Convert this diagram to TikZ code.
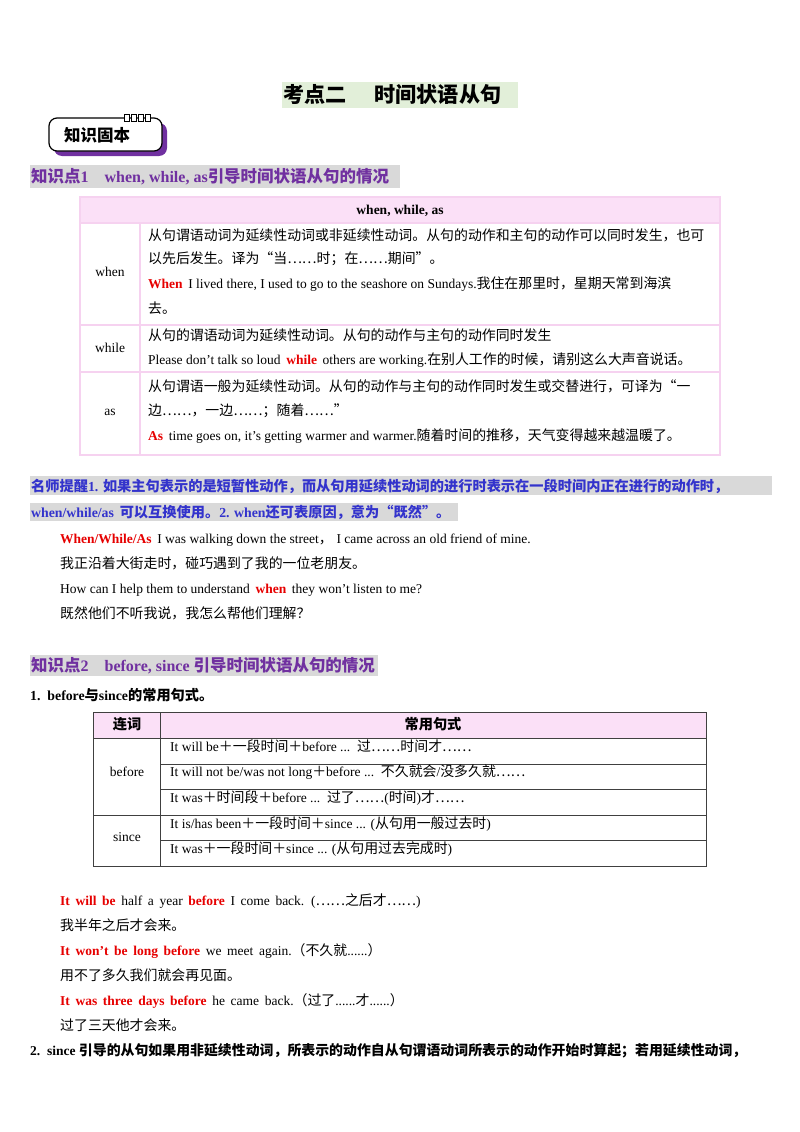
\documentclass[tikz,border=0pt]{standalone}
\usepackage{fontspec}
\setmainfont{Liberation Serif}
\newfontfamily\cjk{Noto Sans CJK SC}[Scale=1.03]
\XeTeXinterchartokenstate=1
\newXeTeXintercharclass\cjkclass
\newcount\cc
\cc="4E00 \loop \XeTeXcharclass\cc=\cjkclass \ifnum\cc<"9FFF \advance\cc 1 \repeat
\cc="3000 \loop \XeTeXcharclass\cc=\cjkclass \ifnum\cc<"303F \advance\cc 1 \repeat
\cc="FF00 \loop \XeTeXcharclass\cc=\cjkclass \ifnum\cc<"FFEF \advance\cc 1 \repeat
\XeTeXcharclass"2026=\cjkclass
\XeTeXcharclass"201C=\cjkclass
\XeTeXcharclass"201D=\cjkclass
\XeTeXinterchartoks 0 \cjkclass = {\begingroup\cjk}
\XeTeXinterchartoks 4095 \cjkclass = {\begingroup\cjk}
\XeTeXinterchartoks \cjkclass 0 = {\endgroup}
\XeTeXinterchartoks \cjkclass 4095 = {\endgroup}
\definecolor{pur}{HTML}{7030A0}
\definecolor{blu}{HTML}{3333CC}
\definecolor{red1}{HTML}{E60000}
\definecolor{pk}{HTML}{FBE0F7}
\definecolor{pkb}{HTML}{F6D2F0}
\definecolor{hl}{HTML}{D9D9D9}
\definecolor{gr}{HTML}{E2EFD9}
\newcommand{\R}[1]{\textcolor{red1}{\bfseries #1}}
\begin{document}
\begin{tikzpicture}[x=1pt,y=-1pt,
 t/.style={anchor=base west,inner sep=0pt,font=\fontsize{13.5}{15}\selectfont},
 c/.style={anchor=base,inner sep=0pt,font=\fontsize{13.5}{15}\selectfont},
 hd/.style={anchor=base west,inner sep=0pt,font=\fontsize{16}{18}\selectfont\bfseries,text=pur},
 bl/.style={anchor=base west,inner sep=0pt,font=\fontsize{13.8}{15}\selectfont\bfseries,text=blu}]
\useasboundingbox (0,0) rectangle (800,1132);
% title
\fill[gr] (282,82) rectangle (518,108);
\node[anchor=base west,inner sep=0pt,font=\fontsize{20.5}{22}\selectfont\bfseries] (title) at (283,102) {考点二\hspace{28pt}时间状语从句};
% badge
\fill[pur,rounded corners=8pt] (54,123) rectangle (167,156);
\draw[fill=white,line width=1.2pt,rounded corners=8pt] (49,118) rectangle (162,151);
\foreach \i in {0,1,2,3} \draw[fill=white,line width=0.8pt] (124+\i*7,114) rectangle (129+\i*7,121);
\node[anchor=base west,inner sep=0pt,font=\fontsize{16}{17}\selectfont\bfseries] (badge) at (64,141) {知识固本};
% heading 1
\fill[hl] (30,165) rectangle (400,188);
\node[hd] (h1) at (31,182) {知识点1\quad when, while, as引导时间状语从句的情况};
% table 1
\fill[pk] (80,197) rectangle (720,223);
\draw[pkb,line width=1.5pt] (80,197) rectangle (720,455) (80,223)--(720,223) (80,325)--(720,325) (80,372)--(720,372) (140,223)--(140,455);
\node[c,font=\fontsize{13.5}{15}\selectfont\bfseries] (t1h) at (400,214) {when, while, as};
\node[c] (w) at (110,276) {when};
\node[c] (wh) at (110,352) {while};
\node[c] (as) at (110,415) {as};
\node[t] (r1a) at (148,240) {从句谓语动词为延续性动词或非延续性动词。从句的动作和主句的动作可以同时发生，也可};
\node[t] (r1b) at (148,263) {以先后发生。译为“当……时；在……期间”。};
\node[t] (r1c) at (148,288) {\R{When} \,I lived there, I used to go to the seashore on Sundays.我住在那里时，星期天常到海滨};
\node[t] (r1d) at (148,313) {去。};
\node[t] (r2a) at (148,340) {从句的谓语动词为延续性动词。从句的动作与主句的动作同时发生};
\node[t] (r2b) at (148,364) {Please don't talk so loud \,\R{while} \,others are working.在别人工作的时候，请别这么大声音说话。};
\node[t] (r3a) at (148,391) {从句谓语一般为延续性动词。从句的动作与主句的动作同时发生或交替进行，可译为“一};
\node[t] (r3b) at (148,415) {边……，一边……；随着……”};
\node[t] (r3c) at (148,440) {\R{As} \,time goes on, it's getting warmer and warmer.随着时间的推移，天气变得越来越温暖了。};
% tip
\fill[hl] (30,476) rectangle (772,495);
\fill[hl] (30,503) rectangle (458,521);
\node[bl] (tip1) at (31,491) {名师提醒1. 如果主句表示的是短暂性动作，而从句用延续性动词的进行时表示在一段时间内正在进行的动作时，};
\node[bl] (tip2) at (31,517) {when/while/as \,可以互换使用。2. when还可表原因，意为“既然”。};
\node[t] (e1) at (60,543) {\R{When/While/As} \,I was walking down the street，\;I came across an old friend of mine.};
\node[t] (e2) at (60,568) {我正沿着大街走时，碰巧遇到了我的一位老朋友。};
\node[t] (e3) at (60,593) {How can I help them to understand \,\R{when} \,they won't listen to me?};
\node[t] (e4) at (60,618) {既然他们不听我说，我怎么帮他们理解？};
% heading 2
\fill[hl] (30,655) rectangle (378,676);
\node[hd] (h2) at (31,671) {知识点2\quad before, since 引导时间状语从句的情况};
\node[t,font=\fontsize{13.8}{15}\selectfont\bfseries] (s1) at (30,700) {1.\, before与since的常用句式。};
% table 2
\fill[pk] (93,712) rectangle (706,738);
\draw[black!75,line width=0.8pt] (93,712) rectangle (706,866) (93,738)--(706,738) (93,815)--(706,815) (160,712)--(160,866) (160,764)--(706,764) (160,789)--(706,789) (160,840)--(706,840);
\node[c,font=\fontsize{13.8}{15}\selectfont\bfseries] (h21) at (127,729) {连词};
\node[c,font=\fontsize{13.8}{15}\selectfont\bfseries] (h22) at (433,729) {常用句式};
\node[c] (bf) at (127,776) {before};
\node[c] (sn) at (127,841) {since};
\node[t] (b1) at (170,751) {It will be＋一段时间＋before ... \,过……时间才……};
\node[t] (b2) at (170,776) {It will not be/was not long＋before ... \,不久就会/没多久就……};
\node[t] (b3) at (170,802) {It was＋时间段＋before ... \,过了……(时间)才……};
\node[t] (s1r) at (170,828) {It is/has been＋一段时间＋since ... (从句用一般过去时)};
\node[t] (s2r) at (170,853) {It was＋一段时间＋since ... (从句用过去完成时)};
% examples
\node[t] (x1) at (60,905) {\R{It\, will\, be} \,half\, a\, year\, \R{before} \,I\, come\, back.\, (……之后才……)};
\node[t] (x2) at (60,930) {我半年之后才会来。};
\node[t] (x3) at (60,955) {\R{It\, won’t\, be\, long\, before} \,we\, meet\, again.（不久就......）};
\node[t] (x4) at (60,980) {用不了多久我们就会再见面。};
\node[t] (x5) at (60,1005) {\R{It\, was\, three\, days\, before} \,he\, came\, back.（过了......才......）};
\node[t] (x6) at (60,1030) {过了三天他才会来。};
\node[t,font=\fontsize{13.5}{15}\selectfont\bfseries] (s2) at (30,1055) {2.\, since 引导的从句如果用非延续性动词，所表示的动作自从句谓语动词所表示的动作开始时算起；若用延续性动词，};
\end{tikzpicture}
\end{document}
